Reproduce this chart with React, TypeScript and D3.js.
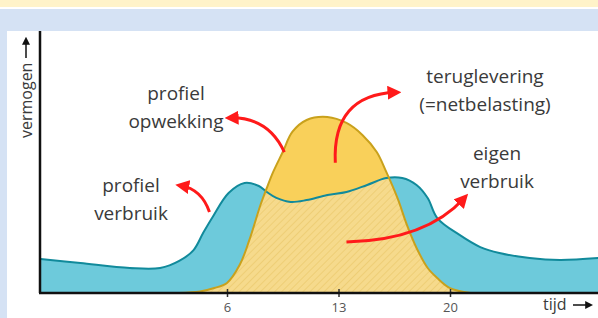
import React, { useEffect, useRef } from 'react';
import * as d3 from 'd3';

// profiel verbruik (consumption)
const consumptionHours = [-5.7, -3.2, -0.1, 1.8, 3.0, 3.9, 4.5, 5.1, 6.1, 7.1, 8.0, 8.5, 9.1, 10.0, 11.0, 12.3, 13.5, 14.8, 16.0, 17.0, 17.9, 18.6, 19.2, 20.6, 21.9, 23.1, 25.0, 26.9, 29.3];
const consumptionPower = [1.93, 1.7, 1.42, 1.42, 1.82, 2.44, 3.41, 4.32, 5.68, 6.25, 6.08, 5.74, 5.4, 5.17, 5.28, 5.57, 5.74, 6.14, 6.53, 6.53, 6.14, 5.4, 4.26, 3.3, 2.61, 2.27, 1.99, 1.88, 1.99];

// profiel opwekking (generation)
const generationHours = [3.0, 4.3, 5.2, 6.0, 6.8, 7.4, 8.1, 8.5, 8.9, 9.5, 10.1, 11.0, 12.3, 13.5, 14.5, 15.4, 16.0, 16.7, 17.3, 17.9, 18.6, 19.2, 20.0, 21.3];
const generationPower = [0, 0.08, 0.28, 0.57, 1.6, 3.0, 5.0, 5.97, 6.88, 8.01, 9.15, 9.83, 10, 9.66, 8.98, 8.01, 6.88, 5.4, 3.86, 2.56, 1.42, 0.85, 0.28, 0];

const tickHours = [6, 13, 20];

const App = () => {
  const ref = useRef<SVGSVGElement>(null);

  useEffect(() => {
    const svg = d3.select(ref.current);
    svg.selectAll('*').remove();

    const width = 598, height = 318;
    const x = d3.scaleLinear().domain([6, 20]).range([227, 450]);
    const y = d3.scaleLinear().domain([0, 10]).range([293, 117]);
    const x0 = 40, y0 = 293;

    const consumption = consumptionHours.map((h, i) => ({ h, v: consumptionPower[i] }));
    const generation = generationHours.map((h, i) => ({ h, v: generationPower[i] }));

    // page decoration
    svg.append('rect').attr('width', width).attr('height', height).attr('fill', '#d5e2f4');
    svg.append('rect').attr('width', width).attr('height', 7).attr('fill', '#fff3c9');
    svg.append('rect').attr('y', 7).attr('width', width).attr('height', 2).attr('fill', '#ffffff');
    svg.append('rect').attr('x', 7).attr('y', 31).attr('width', width - 7).attr('height', height - 31).attr('fill', '#ffffff');

    const defs = svg.append('defs');
    const hatch = defs.append('pattern')
      .attr('id', 'hatch')
      .attr('patternUnits', 'userSpaceOnUse')
      .attr('width', 5).attr('height', 5)
      .attr('patternTransform', 'rotate(45)');
    hatch.append('rect').attr('width', 5).attr('height', 5).attr('fill', '#f6da8c');
    hatch.append('line').attr('x1', 0).attr('y1', 0).attr('x2', 0).attr('y2', 5)
      .attr('stroke', '#ecca6e').attr('stroke-width', 1.5);

    const marker = (id: string, color: string, size: number) => {
      defs.append('marker')
        .attr('id', id)
        .attr('viewBox', '0 0 10 10')
        .attr('refX', 6).attr('refY', 5)
        .attr('markerUnits', 'userSpaceOnUse')
        .attr('markerWidth', size).attr('markerHeight', size)
        .attr('orient', 'auto')
        .append('path').attr('d', 'M0,0 L10,5 L0,10 z').attr('fill', color);
    };
    marker('redHead', '#ff1a1a', 14);
    marker('blackHead', '#111', 8);

    const area = d3.area<{ h: number; v: number }>()
      .x(d => x(d.h)).y0(y0).y1(d => y(d.v))
      .curve(d3.curveCatmullRom.alpha(0.5));
    const line = d3.line<{ h: number; v: number }>()
      .x(d => x(d.h)).y(d => y(d.v))
      .curve(d3.curveCatmullRom.alpha(0.5));

    defs.append('clipPath').attr('id', 'underBlue')
      .append('path').attr('d', area(consumption));

    const plot = svg.append('g');
    plot.append('path').attr('d', area(consumption)).attr('fill', '#6dcadb');
    plot.append('path').attr('d', area(generation)).attr('fill', '#f9d05a');
    plot.append('path').attr('d', area(generation)).attr('fill', 'url(#hatch)').attr('clip-path', 'url(#underBlue)');
    plot.append('path').attr('d', line(consumption)).attr('fill', 'none').attr('stroke', '#118a9b').attr('stroke-width', 2);
    plot.append('path').attr('d', line(generation)).attr('fill', 'none').attr('stroke', '#c9a11c').attr('stroke-width', 2);

    // axes
    const xAxis = svg.append('g')
      .attr('transform', `translate(0,${y0})`)
      .call(d3.axisBottom(x).tickValues(tickHours).tickSize(4).tickSizeOuter(0).tickPadding(6));
    xAxis.select('.domain').remove();
    xAxis.selectAll('.tick line').attr('y1', -4).attr('stroke', '#333').attr('stroke-width', 1.5);
    xAxis.selectAll('.tick text')
      .attr('font-family', 'Open Sans').attr('font-size', 13).attr('fill', '#555');

    svg.append('line').attr('x1', x0 - 1).attr('x2', width).attr('y1', y0).attr('y2', y0)
      .attr('stroke', '#111').attr('stroke-width', 2.5);
    svg.append('line').attr('x1', x0).attr('x2', x0).attr('y1', 31).attr('y2', y0)
      .attr('stroke', '#111').attr('stroke-width', 2.5);

    const textColor = '#3a3a3a';
    svg.append('text')
      .attr('transform', 'translate(32,138) rotate(-90)')
      .attr('font-family', 'Open Sans').attr('font-size', 16).attr('fill', textColor)
      .text('vermogen');
    svg.append('line').attr('x1', 26).attr('x2', 26).attr('y1', 58).attr('y2', 40)
      .attr('stroke', '#111').attr('stroke-width', 1.5).attr('marker-end', 'url(#blackHead)');

    svg.append('text').attr('x', 543).attr('y', 310)
      .attr('font-family', 'Open Sans').attr('font-size', 16).attr('fill', textColor)
      .text('tijd');
    svg.append('line').attr('x1', 573).attr('x2', 590).attr('y1', 305).attr('y2', 305)
      .attr('stroke', '#111').attr('stroke-width', 1.5).attr('marker-end', 'url(#blackHead)');

    // labels
    const labels = [
      { lines: ['profiel', 'opwekking'], cx: 176, by: 100 },
      { lines: ['profiel', 'verbruik'], cx: 131, by: 192 },
      { lines: ['teruglevering', '(=netbelasting)'], cx: 485, by: 83 },
      { lines: ['eigen', 'verbruik'], cx: 497, by: 160 },
    ];
    labels.forEach(l => {
      const t = svg.append('text')
        .attr('font-family', 'Open Sans').attr('font-size', 19).attr('fill', textColor)
        .attr('text-anchor', 'middle');
      l.lines.forEach((s, i) => {
        t.append('tspan').attr('x', l.cx).attr('y', l.by + i * 28).text(s);
      });
    });

    // red arrows
    const arrows = [
      `M${x(9.6)},${y(8.0)} Q${x(8.6)},${y(10)} ${x(6.2)},${y(9.95)}`,
      `M${x(4.9)},${y(4.6)} Q${x(4.4)},${y(5.9)} ${x(3.1)},${y(6.1)}`,
      `M${x(12.8)},${y(7.4)} Q${x(12.6)},${y(11.25)} ${x(16.6)},${y(11.4)}`,
      `M${x(13.5)},${y(2.9)} Q${x(18.5)},${y(3.0)} ${x(20.9)},${y(5.4)}`,
    ];
    svg.append('g').selectAll('path')
      .data(arrows)
      .join('path')
        .attr('d', d => d)
        .attr('fill', 'none')
        .attr('stroke', '#ff1a1a')
        .attr('stroke-width', 3)
        .attr('marker-end', 'url(#redHead)');
  }, []);

  return (
    <svg ref={ref} width={598} height={318} style={{ position: 'absolute', left: 0, top: 0 }}></svg>
  );
};

export default App;
